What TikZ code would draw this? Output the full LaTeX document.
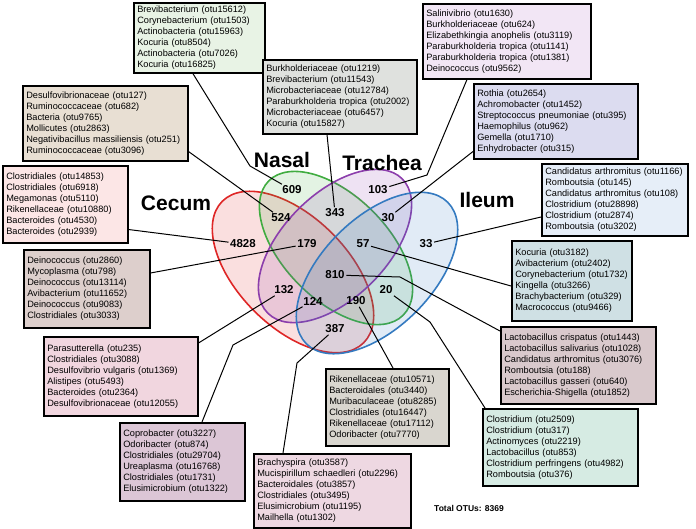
\documentclass[tikz,border=0pt]{standalone}
\usepackage{fontspec}
\setmainfont{Liberation Sans}
\usetikzlibrary{positioning}
\definecolor{cecumred}{RGB}{222,38,38}
\definecolor{nasalgreen}{RGB}{64,172,64}
\definecolor{tracheapurple}{RGB}{140,62,172}
\definecolor{ileumblue}{RGB}{52,122,192}
\definecolor{boxnasal}{RGB}{232,243,229}
\definecolor{boxcecnas}{RGB}{232,223,211}
\definecolor{boxcecum}{RGB}{252,230,230}
\definecolor{boxcnt}{RGB}{221,207,204}
\definecolor{boxct}{RGB}{241,214,223}
\definecolor{boxcti}{RGB}{220,198,214}
\definecolor{boxci}{RGB}{238,216,226}
\definecolor{boxcni}{RGB}{217,214,207}
\definecolor{boxni}{RGB}{214,235,227}
\definecolor{boxall}{RGB}{217,201,204}
\definecolor{boxnti}{RGB}{207,224,228}
\definecolor{boxileum}{RGB}{230,238,248}
\definecolor{boxti}{RGB}{220,220,240}
\definecolor{boxtrachea}{RGB}{242,230,245}
\definecolor{boxnt}{RGB}{223,225,222}
\tikzset{
  otubox/.style={draw, line width=1.5pt, align=left, anchor=north west, inner xsep=3.5pt,
    font=\fontsize{9.2}{11}\selectfont},
  count/.style={font=\bfseries\fontsize{11.5}{12}\selectfont, inner sep=1.5pt},
  tissue/.style={font=\bfseries\fontsize{21}{24}\selectfont},
  leader/.style={line width=1pt},
  venn/.style={line width=1.6pt, fill opacity=0.15}
}
\begin{document}
\begin{tikzpicture}[x=1pt,y=-1pt]
  \useasboundingbox (0,0) rectangle (696,528);
  % the four sets
  \draw[venn, draw=cecumred, fill=cecumred] (293,272) [rotate around={-45:(293,272)}] ellipse [x radius=100, y radius=55];
  \draw[venn, draw=nasalgreen, fill=nasalgreen] (336,248) [rotate around={-45:(336,248)}] ellipse [x radius=95, y radius=52];
  \draw[venn, draw=tracheapurple, fill=tracheapurple] (335,246) [rotate around={45:(335,246)}] ellipse [x radius=95, y radius=52];
  \draw[venn, draw=ileumblue, fill=ileumblue] (377,273) [rotate around={45:(377,273)}] ellipse [x radius=100, y radius=55];

  \node[tissue] (cecum) at (176,203) {Cecum};
  \node[tissue] (nasal) at (282,160) {Nasal};
  \node[tissue] (trachea) at (382,163) {Trachea};
  \node[tissue] (ileum) at (487,200) {Ileum};

  % counts
  \node[count] (n609) at (292,190) {609};
  \node[count] (n524) at (281,218) {524};
  \node[count] (n4828) at (243,244) {4828};
  \node[count] (n179) at (307,244) {179};
  \node[count] (n343) at (335,213) {343};
  \node[count] (n103) at (378,190) {103};
  \node[count] (n30) at (388,218) {30};
  \node[count] (n57) at (363,244) {57};
  \node[count] (n33) at (426,244) {33};
  \node[count] (n810) at (335,275) {810};
  \node[count] (n132) at (284,290) {132};
  \node[count] (n124) at (313,301) {124};
  \node[count] (n190) at (356,301) {190};
  \node[count] (n20) at (386,290) {20};
  \node[count] (n387) at (335,329) {387};

  % OTU boxes
  \node[otubox, fill=boxnasal, text width=124pt, minimum height=69pt] (b609) at (133,2)
    {Brevibacterium (otu15612)\\Corynebacterium (otu1503)\\Actinobacteria (otu15963)\\Kocuria (otu8504)\\Actinobacteria (otu7026)\\Kocuria (otu16825)};
  \node[otubox, fill=boxcecnas, text width=158pt, minimum height=75pt] (b524) at (22,85)
    {Desulfovibrionaceae (otu127)\\Ruminococcaceae (otu682)\\Bacteria (otu9765)\\Mollicutes (otu2863)\\Negativibacillus massiliensis (otu251)\\Ruminococcaceae (otu3096)};
  \node[otubox, fill=boxcecum, text width=118pt, minimum height=77pt] (b4828) at (2,165)
    {Clostridiales (otu14853)\\Clostridiales (otu6918)\\Megamonas (otu5110)\\Rikenellaceae (otu10880)\\Bacteroides (otu4530)\\Bacteroides (otu2939)};
  \node[otubox, fill=boxcnt, text width=119pt, minimum height=78pt] (b179) at (23,249)
    {Deinococcus (otu2860)\\Mycoplasma (otu798)\\Deinococcus (otu13114)\\Avibacterium (otu11652)\\Deinococcus (otu9083)\\Clostridiales (otu3033)};
  \node[otubox, fill=boxct, text width=147pt, minimum height=79pt] (b132) at (43,336)
    {Parasutterella (otu235)\\Clostridiales (otu3088)\\Desulfovibrio vulgaris (otu1369)\\Alistipes (otu5493)\\Bacteroides (otu2364)\\Desulfovibrionaceae (otu12055)};
  \node[otubox, fill=boxcti, text width=118pt, minimum height=78pt] (b124) at (119,422)
    {Coprobacter (otu3227)\\Odoribacter (otu874)\\Clostridiales (otu29704)\\Ureaplasma (otu16768)\\Clostridiales (otu1731)\\Elusimicrobium (otu1322)};
  \node[otubox, fill=boxci, text width=150pt, minimum height=74pt] (b387) at (253,453)
    {Brachyspira (otu3587)\\Mucispirillum schaedleri (otu2296)\\Bacteroidales (otu3857)\\Clostridiales (otu3495)\\Elusimicrobium (otu1195)\\Mailhella (otu1302)};
  \node[otubox, fill=boxcni, text width=116pt, minimum height=77pt] (b190) at (325,368)
    {Rikenellaceae (otu10571)\\Bacteroidales (otu3440)\\Muribaculaceae (otu8285)\\Clostridiales (otu16447)\\Rikenellaceae (otu17112)\\Odoribacter (otu7770)};
  \node[otubox, fill=boxni, text width=148pt, minimum height=77pt] (b20) at (482,408)
    {Clostridium (otu2509)\\Clostridium (otu317)\\Actinomyces (otu2219)\\Lactobacillus (otu853)\\Clostridium perfringens (otu4982)\\Romboutsia (otu376)};
  \node[otubox, fill=boxall, text width=148pt, minimum height=77pt] (b810) at (500,326)
    {Lactobacillus crispatus (otu1443)\\Lactobacillus salivarius (otu1028)\\Candidatus arthromitus (otu3076)\\Romboutsia (otu188)\\Lactobacillus gasseri (otu640)\\Escherichia-Shigella (otu1852)};
  \node[otubox, fill=boxnti, text width=113pt, minimum height=80pt] (b57) at (511,240)
    {Kocuria (otu3182)\\Avibacterium (otu2402)\\Corynebacterium (otu1732)\\Kingella (otu3266)\\Brachybacterium (otu329)\\Macrococcus (otu9466)};
  \node[otubox, fill=boxileum, text width=139pt, minimum height=72pt] (b33) at (541,163)
    {Candidatus arthromitus (otu1166)\\Romboutsia (otu145)\\Candidatus arthromitus (otu108)\\Clostridium (otu28898)\\Clostridium (otu2874)\\Romboutsia (otu3202)};
  \node[otubox, fill=boxti, text width=157pt, minimum height=75pt] (b30) at (473,83)
    {Rothia (otu2654)\\Achromobacter (otu1452)\\Streptococcus pneumoniae (otu395)\\Haemophilus (otu962)\\Gemella (otu1710)\\Enhydrobacter (otu315)};
  \node[otubox, fill=boxtrachea, text width=161pt, minimum height=75pt] (b103) at (422,3)
    {Salinivibrio (otu1630)\\Burkholderiaceae (otu624)\\Elizabethkingia anophelis (otu3119)\\Paraburkholderia tropica (otu1141)\\Paraburkholderia tropica (otu1381)\\Deinococcus (otu9562)};
  \node[otubox, fill=boxnt, text width=147pt, minimum height=74pt] (b343) at (262,59)
    {Burkholderiaceae (otu1219)\\Brevibacterium (otu11543)\\Microbacteriaceae (otu12784)\\Paraburkholderia tropica (otu2002)\\Microbacteriaceae (otu6457)\\Kocuria (otu15827)};

  % leaders
  \draw[leader] ([xshift=60pt]b609.south west) -- (250,166) -- (n609);
  \draw[leader] ([yshift=10pt]b524.south east) -- (n524);
  \draw[leader] ([yshift=14pt]b4828.south east) -- (n4828);
  \draw[leader] ([yshift=-24pt]b179.north east) -- (n179);
  \draw[leader] ([yshift=-7pt]b132.north east) -- (n132);
  \draw[leader] ([xshift=83pt]b124.north west) -- (233,345) -- (n124);
  \draw[leader] ([xshift=30pt]b387.north west) -- (297,363) -- (n387);
  \draw[leader] ([xshift=68pt]b190.north west) -- (n190);
  \draw[leader] ([xshift=3pt]b20.north west) -- (430,322) -- (n20);
  \draw[leader] ([yshift=-5pt]b810.north west) -- (400,277) -- (n810);
  \draw[leader] ([yshift=-46pt]b57.north west) -- (n57);
  \draw[leader] ([yshift=-54pt]b33.north west) -- (n33);
  \draw[leader] ([yshift=8pt]b30.south west) -- (n30);
  \draw[leader] ([xshift=45pt]b103.south west) -- (427,175) -- (n103);
  \draw[leader] ([xshift=65pt]b343.south west) -- (n343);

  \node[font=\bfseries\fontsize{8.5}{10}\selectfont, anchor=west, inner sep=0pt] (total) at (434,508) {Total OTUs: 8369};
\end{tikzpicture}
\end{document}
